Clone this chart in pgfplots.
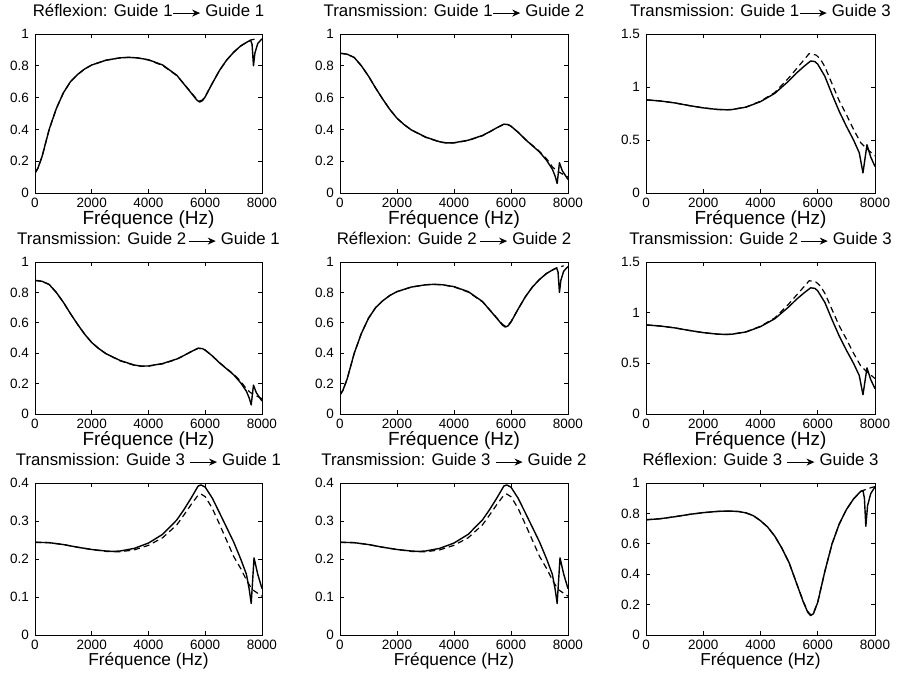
\documentclass[border=0pt]{standalone}
\usepackage{fontspec}
\setmainfont{Liberation Sans}
\usepackage{pgfplots}
\pgfplotsset{compat=1.18}
\usepackage{pgfplotstable}
\usetikzlibrary{arrows.meta}

% reflexion 1->1 (same curve for 2->2)
\pgfplotstableread{
x y
0 0.125
100 0.155
250 0.23
500 0.40
750 0.53
1000 0.63
1250 0.70
1500 0.745
1750 0.78
2000 0.805
2500 0.835
3000 0.850
3300 0.853
3600 0.850
4000 0.838
4500 0.805
5000 0.740
5250 0.685
5500 0.630
5700 0.585
5800 0.572
5900 0.580
6000 0.605
6250 0.690
6500 0.770
6750 0.835
7000 0.885
7250 0.925
7500 0.952
7600 0.960
7650 0.935
7700 0.800
7750 0.880
7850 0.940
8000 0.970
}\RRs
\pgfplotstableread{
x y
0 0.125
100 0.155
250 0.23
500 0.40
750 0.53
1000 0.63
1250 0.70
1500 0.745
1750 0.78
2000 0.805
2500 0.835
3000 0.850
3300 0.853
3600 0.850
4000 0.836
4500 0.802
5000 0.738
5250 0.686
5500 0.633
5700 0.590
5800 0.578
5900 0.585
6000 0.608
6250 0.690
6500 0.770
6750 0.835
7000 0.885
7250 0.925
7500 0.952
7600 0.962
7700 0.966
7850 0.975
}\RRd

% transmission 1->2 (same curve for 2->1)
\pgfplotstableread{
x y
0 0.879
250 0.873
500 0.852
750 0.800
1000 0.735
1250 0.660
1500 0.590
1750 0.525
2000 0.470
2250 0.430
2500 0.397
3000 0.352
3500 0.322
3750 0.315
4000 0.316
4500 0.332
5000 0.362
5250 0.385
5500 0.410
5750 0.433
5900 0.430
6000 0.420
6250 0.382
6500 0.337
7000 0.258
7250 0.205
7450 0.150
7550 0.105
7620 0.060
7700 0.190
7800 0.140
8000 0.085
}\TAs
\pgfplotstableread{
x y
0 0.879
250 0.873
500 0.852
750 0.800
1000 0.735
1250 0.660
1500 0.590
1750 0.525
2000 0.470
2250 0.430
2500 0.397
3000 0.350
3500 0.320
3750 0.314
4000 0.315
4500 0.330
5000 0.360
5250 0.384
5500 0.410
5750 0.432
5900 0.430
6000 0.420
6250 0.382
6500 0.338
7000 0.262
7250 0.215
7450 0.165
7600 0.140
7800 0.120
8000 0.100
}\TAd

% transmission 1->3 (same curve for 2->3)
\pgfplotstableread{
x y
0 0.879
500 0.868
1000 0.850
1500 0.825
2000 0.803
2500 0.788
2800 0.785
3000 0.787
3500 0.810
4000 0.862
4500 0.940
5000 1.060
5250 1.130
5500 1.190
5750 1.245
5900 1.240
6000 1.215
6250 1.100
6500 0.930
6750 0.770
7000 0.630
7250 0.500
7450 0.380
7580 0.190
7720 0.455
7850 0.340
8000 0.250
}\TBs
\pgfplotstableread{
x y
0 0.879
500 0.868
1000 0.850
1500 0.825
2000 0.803
2500 0.788
2800 0.785
3000 0.787
3500 0.812
4000 0.866
4500 0.948
5000 1.090
5250 1.170
5500 1.250
5700 1.315
5800 1.312
5950 1.300
6100 1.260
6250 1.190
6500 1.030
6750 0.870
7000 0.740
7250 0.600
7500 0.475
7700 0.420
8000 0.350
}\TBd

% transmission 3->1 (same curve for 3->2)
\pgfplotstableread{
x y
0 0.244
500 0.243
1000 0.238
1500 0.231
2000 0.225
2500 0.221
2750 0.220
3000 0.221
3500 0.228
4000 0.242
4500 0.265
5000 0.303
5250 0.330
5500 0.360
5750 0.392
5850 0.395
6000 0.389
6250 0.360
6500 0.322
7000 0.245
7250 0.200
7450 0.160
7550 0.120
7620 0.083
7720 0.203
7850 0.160
8000 0.122
}\TCs
\pgfplotstableread{
x y
0 0.244
500 0.243
1000 0.238
1500 0.231
2000 0.225
2500 0.220
2750 0.219
3000 0.219
3500 0.224
4000 0.236
4500 0.256
5000 0.290
5250 0.316
5500 0.343
5750 0.368
5850 0.371
6000 0.364
6250 0.333
6500 0.292
7000 0.207
7250 0.175
7450 0.145
7650 0.120
8000 0.102
}\TCd

% reflexion 3->3
\pgfplotstableread{
x y
0 0.758
500 0.765
1000 0.778
1500 0.793
2000 0.805
2500 0.813
2750 0.815
3000 0.815
3250 0.812
3500 0.803
3750 0.785
4000 0.752
4250 0.710
4500 0.650
4750 0.570
5000 0.475
5250 0.345
5500 0.215
5650 0.150
5750 0.128
5850 0.140
6000 0.215
6250 0.420
6500 0.600
6750 0.730
7000 0.825
7250 0.895
7500 0.945
7580 0.950
7630 0.900
7680 0.715
7740 0.850
7850 0.930
8000 0.975
}\RCs
\pgfplotstableread{
x y
0 0.758
500 0.765
1000 0.778
1500 0.793
2000 0.805
2500 0.813
2750 0.815
3000 0.815
3250 0.812
3500 0.803
3750 0.785
4000 0.752
4250 0.710
4500 0.650
4750 0.570
5000 0.475
5250 0.345
5500 0.218
5650 0.155
5750 0.133
5850 0.145
6000 0.218
6250 0.420
6500 0.600
6750 0.730
7000 0.825
7250 0.895
7500 0.945
7600 0.952
7750 0.962
7900 0.972
8000 0.975
}\RCd

\newcommand{\arr}{\tikz[baseline=0pt]\draw[line width=1pt,-{Stealth[length=8pt,width=7pt]}] (0,3.4pt)--(27pt,3.4pt);}

\pgfplotsset{
  guide/.style={
    scale only axis, width=228pt, height=152pt,
    xmin=0, xmax=8000,
    xtick={0,2000,4000,6000,8000},
    xticklabels={0,2000,4000,6000,8000},
    tick align=inside, xtick pos=both, ytick pos=both,
    major tick length=4pt,
    axis line style={line width=0.8pt},
    every tick/.style={black, line width=0.6pt},
    tick label style={font=\fontsize{13.5}{14}\selectfont, inner sep=0pt},
    xticklabel style={yshift=-5pt},
    yticklabel style={xshift=-6pt},
    /pgf/number format/assume math mode=true,
    title style={font=\fontsize{16.8}{18}\selectfont, inner sep=0pt, at={(0.5,1)}, anchor=base, yshift=11.5pt},
    xlabel={Fréquence (Hz)},
    xlabel style={font=\fontsize{19}{20}\selectfont, inner sep=0pt, at={(0.5,0)}, anchor=base, yshift=-32pt},
  },
  unit/.style={ymin=0, ymax=1, ytick={0,0.2,0.4,0.6,0.8,1}, yticklabels={0,0.2,0.4,0.6,0.8,1}},
  big/.style={ymin=0, ymax=1.5, ytick={0,0.5,1,1.5}, yticklabels={0,0.5,1,1.5}},
  small/.style={ymin=0, ymax=0.4, ytick={0,0.1,0.2,0.3,0.4}, yticklabels={0,0.1,0.2,0.3,0.4}},
  lastrow/.style={xlabel style={font=\fontsize{17.3}{18}\selectfont, yshift=1pt}},
  sol/.style={black, line width=1.4pt, line join=round},
  das/.style={black, line width=1.2pt, line join=round, dash pattern=on 6pt off 4pt},
}

\begin{document}
\begin{tikzpicture}
\useasboundingbox (0,0) rectangle (897pt,677pt);
% row 1
\begin{axis}[guide, unit, height=159pt, width=227pt, at={(35pt,484pt)}, anchor=south west,
  title={Réflexion: Guide 1\arr\ Guide 1}]
\addplot[das] table {\RRd};
\addplot[sol] table {\RRs};
\end{axis}
\begin{axis}[guide, unit, height=159pt, at={(340pt,484pt)}, anchor=south west,
  title={Transmission: Guide 1\arr\ Guide 2}]
\addplot[das] table {\TAd};
\addplot[sol] table {\TAs};
\end{axis}
\begin{axis}[guide, big, height=159pt, width=229pt, at={(646pt,484pt)}, anchor=south west,
  title={Transmission: Guide 1\arr\ Guide 3}]
\addplot[das] table {\TBd};
\addplot[sol] table {\TBs};
\end{axis}
% row 2
\begin{axis}[guide, unit, width=227pt, at={(35pt,263pt)}, anchor=south west,
  title={Transmission: Guide 2\kern2pt\arr\ Guide 1}]
\addplot[das] table {\TAd};
\addplot[sol] table {\TAs};
\end{axis}
\begin{axis}[guide, unit, at={(340pt,263pt)}, anchor=south west,
  title={Réflexion: Guide 2\kern3pt\arr\ Guide 2}]
\addplot[das] table {\RRd};
\addplot[sol] table {\RRs};
\end{axis}
\begin{axis}[guide, big, width=229pt, at={(646pt,263pt)}, anchor=south west,
  title={Transmission: Guide 2\kern2pt\arr\ Guide 3}]
\addplot[das] table {\TBd};
\addplot[sol] table {\TBs};
\end{axis}
% row 3
\begin{axis}[guide, small, lastrow, width=227pt, at={(35pt,42pt)}, anchor=south west,
  title={Transmission: Guide 3 \arr\ Guide 1}]
\addplot[das] table {\TCd};
\addplot[sol] table {\TCs};
\end{axis}
\begin{axis}[guide, small, lastrow, at={(340pt,42pt)}, anchor=south west,
  title={Transmission: Guide 3 \arr\ Guide 2}]
\addplot[das] table {\TCd};
\addplot[sol] table {\TCs};
\end{axis}
\begin{axis}[guide, unit, lastrow, width=229pt, at={(646pt,42pt)}, anchor=south west,
  title={Réflexion: Guide 3 \arr\ Guide 3}]
\addplot[das] table {\RCd};
\addplot[sol] table {\RCs};
\end{axis}
\end{tikzpicture}
\end{document}
